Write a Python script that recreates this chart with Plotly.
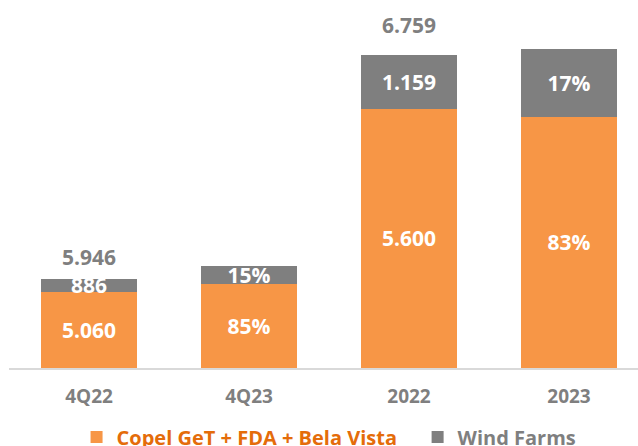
import plotly.graph_objects as go

# ---- data ----
categories = ["4Q22", "4Q23", "2022", "2023"]
copel_values = [5060, 5613, 5600, 5428]
wind_values = [886, 1173, 1159, 1461]
copel_labels = ["5.060", "85%", "5.600", "83%"]
wind_labels = ["886", "15%", "1.159", "17%"]
total_values = [5946, None, 6759, None]
total_labels = ["5.946", "", "6.759", ""]
series_names = ["Copel GeT + FDA + Bela Vista", "Wind Farms"]

ORANGE = "#F79646"
ORANGE_TEXT = "#E46C0A"
GRAY = "#7F7F7F"
FONT = "Open Sans"

quarter_idx = [0, 1]
annual_idx = [2, 3]
axis_for = {"y": quarter_idx, "y2": annual_idx}

fig = go.Figure()
for axis, idx in axis_for.items():
    first = axis == "y"
    fig.add_trace(go.Bar(
        x=[categories[i] for i in idx],
        y=[copel_values[i] for i in idx],
        text=[copel_labels[i] for i in idx],
        name=f"<span style='color:{ORANGE_TEXT}'>{series_names[0]}</span>\u00a0\u00a0\u00a0",
        legendgroup="copel", showlegend=first,
        marker=dict(color=ORANGE, line=dict(width=0)),
        yaxis=axis, width=0.6,
    ))
    fig.add_trace(go.Bar(
        x=[categories[i] for i in idx],
        y=[wind_values[i] for i in idx],
        text=[wind_labels[i] for i in idx],
        name=f"<span style='color:{GRAY}'>{series_names[1]}</span>",
        legendgroup="wind", showlegend=first,
        marker=dict(color=GRAY, line=dict(width=0)),
        yaxis=axis, width=0.6,
    ))

fig.update_traces(
    textposition="inside", insidetextanchor="middle", textangle=0,
    constraintext="none", cliponaxis=False,
    insidetextfont=dict(family=FONT, size=21, color="white", weight="bold"),
    hoverinfo="skip",
)

annotations = []
shifts = {0: 22, 2: 30}
for i, (tv, tl) in enumerate(zip(total_values, total_labels)):
    if tv is None:
        continue
    annotations.append(dict(
        x=i, y=tv, xref="x", yref="y" if i in quarter_idx else "y2",
        text=tl, showarrow=False, yanchor="middle", yshift=shifts[i],
        font=dict(family=FONT, size=21, color=GRAY, weight="bold"),
    ))

hidden_y = dict(showgrid=False, zeroline=False, showline=False,
                showticklabels=False, ticks="")

fig.update_layout(
    width=638, height=446,
    margin=dict(l=9, r=0, t=11, b=78, autoexpand=False),
    paper_bgcolor="white", plot_bgcolor="white",
    barmode="stack",
    showlegend=True,
    legend=dict(
        orientation="h", xref="container", yref="container",
        x=0.12, xanchor="left", y=0.02, yanchor="middle",
        font=dict(family=FONT, size=20, weight="bold"),
        bgcolor="rgba(0,0,0,0)", traceorder="normal",
    ),
    xaxis=dict(
        type="category", categoryorder="array", categoryarray=categories,
        range=[-0.5, 3.43125], showgrid=False, zeroline=False,
        showline=True, linecolor="#D9D9D9", linewidth=2,
        ticks="", ticklabelstandoff=10,
        tickfont=dict(family=FONT, size=19, color=GRAY, weight="bold"),
    ),
    yaxis=dict(range=[0, 23797], **hidden_y),
    yaxis2=dict(range=[0, 7705], overlaying="y", **hidden_y),
    annotations=annotations,
)

fig.write_html(
    "out.html",
    config={"displayModeBar": False},
    post_script="document.body.style.margin='0';document.body.style.padding='0';",
)
